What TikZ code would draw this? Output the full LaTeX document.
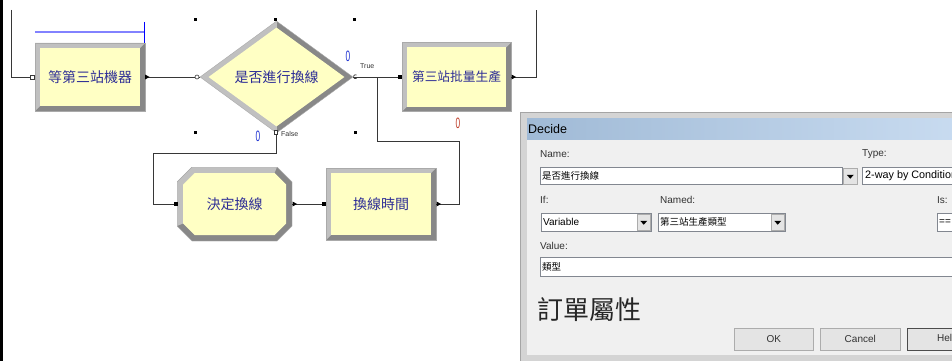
\documentclass[tikz,border=0pt]{standalone}
\usepackage{fontspec}
\usepackage{graphicx}
\usetikzlibrary{shapes.geometric}
\setmainfont{Liberation Sans}
\newfontfamily\cjk{Noto Sans CJK TC}
\definecolor{ayellow}{RGB}{255,255,196}
\definecolor{bevlight}{RGB}{192,192,192}
\definecolor{bevdark}{RGB}{136,136,136}
\definecolor{bevline}{RGB}{170,170,170}
\definecolor{navyt}{RGB}{45,45,150}
\definecolor{connc}{RGB}{55,55,55}
\definecolor{cntblue}{RGB}{30,50,210}
\definecolor{cntred}{RGB}{190,60,40}
\definecolor{selblue}{RGB}{130,130,255}
\definecolor{framec}{RGB}{212,212,212}
\definecolor{frameb}{RGB}{165,165,165}
\definecolor{bodyc}{RGB}{240,240,240}
\definecolor{titleL}{RGB}{160,186,214}
\definecolor{titleR}{RGB}{200,219,240}
\definecolor{fieldb}{RGB}{130,135,144}
\definecolor{btnfill}{RGB}{228,228,228}
\definecolor{btnb}{RGB}{172,172,172}
\definecolor{lblc}{RGB}{50,50,50}
\tikzset{
  conn/.style={draw=connc, line width=0.8pt},
  bevrect/.style={rectangle, inner sep=0pt, draw=bevline, line width=0.4pt, text=navyt,
    font=\cjk\fontsize{14pt}{16pt}\selectfont,
    path picture={
      \path (path picture bounding box.north west) coordinate (pnw)
            (path picture bounding box.north east) coordinate (pne)
            (path picture bounding box.south west) coordinate (psw)
            (path picture bounding box.south east) coordinate (pse);
      \fill[bevdark] (psw) rectangle (pne);
      \fill[bevlight] (psw) -- (pnw) -- (pne) -- ([shift={(-5pt,-5pt)}]pne)
         -- ([shift={(5pt,-5pt)}]pnw) -- ([shift={(5pt,5pt)}]psw) -- cycle;
      \fill[ayellow] ([shift={(5pt,5pt)}]psw) rectangle ([shift={(-5pt,-5pt)}]pne);
    }},
  bevoct/.style={rectangle, inner sep=0pt, text=navyt,
    font=\cjk\fontsize{14pt}{16pt}\selectfont,
    path picture={
      \path (path picture bounding box.north west) coordinate (pnw)
            (path picture bounding box.north east) coordinate (pne)
            (path picture bounding box.south west) coordinate (psw)
            (path picture bounding box.south east) coordinate (pse);
      \fill[bevdark] ([yshift=-15pt]pnw) -- ([xshift=15pt]pnw) -- ([xshift=-15pt]pne)
         -- ([yshift=-15pt]pne) -- ([yshift=15pt]pse) -- ([xshift=-15pt]pse)
         -- ([xshift=15pt]psw) -- ([yshift=15pt]psw) -- cycle;
      \fill[bevlight] ([yshift=15pt]psw) -- ([yshift=-15pt]pnw) -- ([xshift=15pt]pnw)
         -- ([xshift=-15pt]pne) -- ([shift={(-17.5pt,-6pt)}]pne) -- ([shift={(17.5pt,-6pt)}]pnw)
         -- ([shift={(6pt,-17.5pt)}]pnw) -- ([shift={(6pt,17.5pt)}]psw) -- cycle;
      \fill[ayellow] ([shift={(6pt,-17.5pt)}]pnw) -- ([shift={(17.5pt,-6pt)}]pnw)
         -- ([shift={(-17.5pt,-6pt)}]pne) -- ([shift={(-6pt,-17.5pt)}]pne)
         -- ([shift={(-6pt,17.5pt)}]pse) -- ([shift={(-17.5pt,6pt)}]pse)
         -- ([shift={(17.5pt,6pt)}]psw) -- ([shift={(6pt,17.5pt)}]psw) -- cycle;
      \draw[bevline, line width=0.4pt] ([yshift=-15pt]pnw) -- ([xshift=15pt]pnw) -- ([xshift=-15pt]pne)
         -- ([yshift=-15pt]pne) -- ([yshift=15pt]pse) -- ([xshift=-15pt]pse)
         -- ([xshift=15pt]psw) -- ([yshift=15pt]psw) -- cycle;
    }},
  bevdia/.style={diamond, inner sep=0pt, draw=bevline, line width=0.4pt, text=navyt,
    font=\cjk\fontsize{14pt}{16pt}\selectfont,
    path picture={
      \path (path picture bounding box.north east) coordinate (pne)
            (path picture bounding box.south west) coordinate (psw)
            (path picture bounding box.north) coordinate (pn)
            (path picture bounding box.south) coordinate (ps)
            (path picture bounding box.west) coordinate (pw)
            (path picture bounding box.east) coordinate (pe);
      \fill[bevlight] (psw) rectangle (pn);
      \fill[bevdark] (ps) rectangle (pne);
      \fill[ayellow] ([xshift=8.5pt]pw) -- ([yshift=-6.5pt]pn) -- ([xshift=-8.5pt]pe)
         -- ([yshift=6.5pt]ps) -- cycle;
    }},
  cnt/.style={inner sep=0pt, font=\fontsize{15pt}{15pt}\selectfont},
  small/.style={inner sep=0pt, font=\fontsize{7pt}{8pt}\selectfont, text=lblc},
  dlgbox/.style={rectangle, inner sep=0pt, anchor=north west},
  field/.style={dlgbox, fill=white, draw=fieldb, line width=0.6pt},
  ddbtn/.style={dlgbox, fill=btnfill, draw=btnb, line width=0.5pt},
  pushbtn/.style={dlgbox, fill=btnfill, draw=btnb, line width=0.6pt,
    font=\fontsize{10pt}{12pt}\selectfont, text=lblc},
  lbl/.style={inner sep=0pt, anchor=west, font=\fontsize{10pt}{12pt}\selectfont, text=lblc},
  ftxt/.style={inner sep=0pt, anchor=west, font=\cjk\fontsize{9.5pt}{11pt}\selectfont, text=black},
}
\begin{document}
\begin{tikzpicture}[x=1pt,y=-1pt]
\useasboundingbox (0,0) rectangle (952,361);
\clip (0,0) rectangle (952,361);
\fill[white] (0,0) rectangle (952,361);
\fill[black] (0,0) rectangle (2.5,361);

% ---------- flowchart blocks ----------
\node[bevrect, minimum width=110pt, minimum height=68pt] (b1) at (90,77) {等第三站機器};
\node[bevdia, minimum width=153pt, minimum height=112pt] (d) at (276.5,77) {是否進行換線};
\node[bevrect, minimum width=109pt, minimum height=69pt,
      font=\cjk\fontsize{12.7pt}{15pt}\selectfont] (b3) at (456.5,77) {第三站批量生產};
\node[bevoct, minimum width=115pt, minimum height=74pt] (b4) at (234.5,204) {決定換線};
\node[bevrect, minimum width=110pt, minimum height=72pt] (b5) at (381,204) {換線時間};

% ---------- connectors ----------
\coordinate (topL) at (11,10);
\coordinate (topR) at (536,10);
\coordinate (fa) at (153,153);
\coordinate (r1) at (459,141);
\coordinate (jn) at (377,77);
\draw[conn] (topL) |- (b1.west);
\draw[conn] (b1.east) -- (d.west);
\draw[conn] (d.east) -- (b3.west);
\draw[conn] (b3.east) -| (topR);
\draw[conn] (d.south) |- (fa) |- (b4.west);
\draw[conn] (b4.east) -- (b5.west);
\draw[conn] (b5.east) -| (r1) -| (jn);

% ---------- entry / exit points ----------
\draw[fill=white, draw=connc, line width=0.6pt] (30,75) rectangle (34,79);
\fill (145,74.5) -- (149.5,77) -- (145,79.5) -- cycle;
\draw[fill=white, draw=connc, line width=0.6pt] (197,77) circle (2pt);
\draw[connc, line width=0.7pt] (356.5,75) arc (60:300:2pt);
\draw[fill=white, draw=connc, line width=0.6pt] (274.5,130.5) rectangle (277.5,134);
\fill (398,75) rectangle (402,79);
\fill (511.5,74.5) -- (516,77) -- (511.5,79.5) -- cycle;
\fill (173.5,202) rectangle (177.5,206);
\fill (292.5,201.5) -- (297,204) -- (292.5,206.5) -- cycle;
\fill (322,202) rectangle (326,206);
\fill (436.5,201.5) -- (441,204) -- (436.5,206.5) -- cycle;

% ---------- selection marks ----------
\draw[selblue, line width=1.6pt] (35,32) -- (144,32);
\draw[blue, line width=1pt] (144,22) -- (144,43);
\foreach \hx/\hy in {195.5/19.5, 275.5/19.5, 354.5/19.5, 195.5/132.5, 355/132.5}
  \fill (\hx-1.5,\hy-1.5) rectangle (\hx+1.5,\hy+1.5);

% ---------- counters and labels ----------
\node[cnt, text=cntblue] (c1) at (348,56) {\scalebox{0.55}[1]{0}};
\node[small, anchor=west] (ltrue) at (360,66) {True};
\node[cnt, text=cntblue] (c2) at (258,136) {\scalebox{0.55}[1]{0}};
\node[small, anchor=west] (lfalse) at (281,133.5) {False};
\node[cnt, text=cntred] (c3) at (458,123) {\scalebox{0.55}[1]{0}};

% ---------- Decide dialog ----------
\node[dlgbox, fill=framec, draw=frameb, line width=0.6pt, minimum width=440pt, minimum height=260pt] (frame) at (520,112) {};
\node[dlgbox, left color=titleL, right color=titleR, minimum width=430pt, minimum height=22pt] (title) at (527,118) {};
\node[dlgbox, fill=bodyc, minimum width=430pt, minimum height=215pt] (body) at (527,140) {};
\node[inner sep=0pt, anchor=west, font=\fontsize{12.5pt}{14pt}\selectfont] (tdecide) at (528,129.5) {Decide};

\node[lbl] (lname) at (540,154) {Name:};
\node[lbl] (ltype) at (862,154) {Type:};
\node[field, minimum width=302pt, minimum height=17pt] (namef) at (540,167) {};
\node[ddbtn, minimum width=14pt, minimum height=16pt] (namebtn) at (843,168) {};
\node[field, minimum width=100pt, minimum height=17pt] (typef) at (862,167) {};
\node[ftxt] (tname) at ([xshift=2pt]namef.west) {是否進行換線};
\node[lbl, text=black, font=\fontsize{10.8pt}{12pt}\selectfont] (ttype) at ([xshift=3pt]typef.west) {2-way by Condition};

\node[lbl] (lif) at (540,200) {If:};
\node[lbl] (lnamed) at (660,200) {Named:};
\node[lbl] (lis) at (937,200) {Is:};
\node[field, minimum width=110pt, minimum height=18pt] (varf) at (541,213) {};
\node[ddbtn, minimum width=13pt, minimum height=16pt] (varbtn) at (637,214) {};
\node[field, minimum width=127pt, minimum height=18pt] (namedf) at (658,213) {};
\node[ddbtn, minimum width=13pt, minimum height=16pt] (namedbtn) at (771,214) {};
\node[field, minimum width=30pt, minimum height=18pt] (isf) at (937,213) {};
\node[lbl, text=black] (tvar) at ([xshift=2pt]varf.west) {Variable};
\node[ftxt] (tnamed) at ([xshift=2pt]namedf.west) {第三站生產類型};
\node[lbl, text=black] (tis) at ([xshift=2pt]isf.west) {==};

\node[lbl] (lvalue) at (540,246) {Value:};
\node[field, minimum width=420pt, minimum height=19pt] (valf) at (540,257) {};
\node[ftxt] (tval) at ([xshift=2pt]valf.west) {類型};

\foreach \b in {namebtn, varbtn, namedbtn}
  \fill (\b.center) ++(-3.5,-1.5) -- ++(7,0) -- ++(-3.5,4) -- cycle;

\node[inner sep=0pt, anchor=west, font=\cjk\fontsize{26pt}{30pt}\selectfont, text=black!85] (attr) at (537,310) {訂單屬性};

\node[pushbtn, minimum width=79pt, minimum height=22pt] (okb) at (734,328) {OK};
\node[pushbtn, minimum width=80pt, minimum height=22pt] (cancelb) at (820,328) {Cancel};
\node[pushbtn, draw=black!70, line width=0.8pt, minimum width=80pt, minimum height=22pt] (helpb) at (907,328) {Help};
\end{tikzpicture}
\end{document}
